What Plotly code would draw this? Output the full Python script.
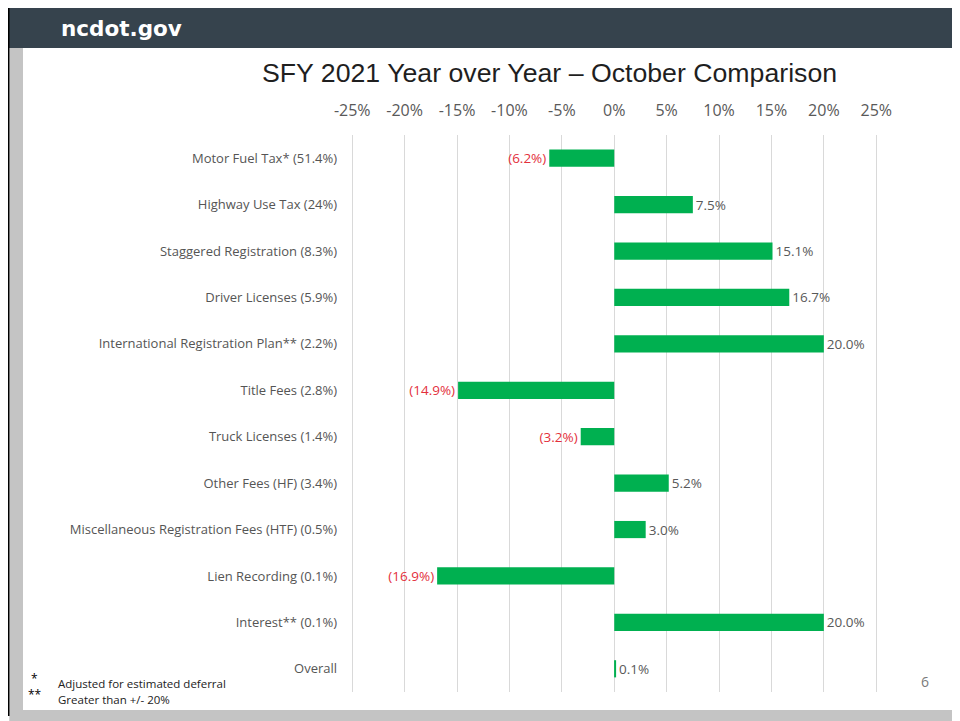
import plotly.graph_objects as go

categories = [
    "Motor Fuel Tax* (51.4%)",
    "Highway Use Tax (24%)",
    "Staggered Registration (8.3%)",
    "Driver Licenses (5.9%)",
    "International Registration Plan** (2.2%)",
    "Title Fees (2.8%)",
    "Truck Licenses (1.4%)",
    "Other Fees (HF) (3.4%)",
    "Miscellaneous Registration Fees (HTF) (0.5%)",
    "Lien Recording (0.1%)",
    "Interest** (0.1%)",
    "Overall",
]
values = [-6.2, 7.5, 15.1, 16.7, 20.0, -14.9, -3.2, 5.2, 3.0, -16.9, 20.0, 0.1]
tick_vals = [-25, -20, -15, -10, -5, 0, 5, 10, 15, 20, 25]
tick_text = ["-25%", "-20%", "-15%", "-10%", "-5%", "0%", "5%", "10%", "15%", "20%", "25%"]

# page body adds an 8px offset; work in reference page pixels and convert
OFF = 8
W, H = 960 - OFF, 721 - OFF
GREEN = "#00b050"
RED = "#e3303c"
GREY_TXT = "#595959"

labels = [f"({abs(v):.1f}%)" if v < 0 else f"{v:.1f}%" for v in values]
label_colors = [RED if v < 0 else GREY_TXT for v in values]


def px(x):
    return (x - OFF) / W


def py(y):
    return 1 - (y - OFF) / H


fig = go.Figure()
fig.add_trace(go.Bar(
    x=values, y=categories, orientation="h",
    marker=dict(color=GREEN, line=dict(width=0)),
    width=0.37,
    text=labels, textposition="outside", constraintext="none",
    textfont=dict(family="Open Sans", size=13.5, color=label_colors),
    cliponaxis=False, hoverinfo="skip",
))

shapes = [
    # header
    dict(type="rect", xref="paper", yref="paper", x0=px(9), x1=1.01, y0=py(48), y1=1.01,
         fillcolor="#36434d", line=dict(width=0), layer="above"),
    # left black line
    dict(type="rect", xref="paper", yref="paper", x0=px(8), x1=px(9.5), y0=py(716), y1=1.01,
         fillcolor="#000000", line=dict(width=0), layer="above"),
    # left grey strip
    dict(type="rect", xref="paper", yref="paper", x0=px(9.5), x1=px(23), y0=-0.01, y1=py(48),
         fillcolor="#c4c4c4", line=dict(width=0), layer="below"),
    # bottom grey strip
    dict(type="rect", xref="paper", yref="paper", x0=px(9.5), x1=1.01, y0=-0.01, y1=py(710),
         fillcolor="#c4c4c4", line=dict(width=0), layer="below"),
    # right grey strip
    dict(type="rect", xref="paper", yref="paper", x0=px(957), x1=1.01, y0=-0.01, y1=py(48),
         fillcolor="#c4c4c4", line=dict(width=0), layer="below"),
]

annotations = [
    dict(text="<b>ncdot.gov</b>", x=px(59), y=py(28), xref="paper", yref="paper",
         xanchor="left", yanchor="middle", showarrow=False,
         font=dict(family="DejaVu Sans", size=21.5, color="white")),
    dict(text="SFY 2021 Year over Year – October Comparison", x=px(549.5), y=py(73),
         xref="paper", yref="paper", xanchor="center", yanchor="middle", showarrow=False,
         font=dict(family="Liberation Sans, Arial", size=26.7, color="#1f1f1f")),
    dict(text="*", x=px(29), y=py(678), xref="paper", yref="paper",
         xanchor="left", yanchor="middle", showarrow=False,
         font=dict(family="Open Sans", size=12, color="#000000")),
    dict(text="Adjusted for estimated deferral", x=px(56), y=py(683), xref="paper", yref="paper",
         xanchor="left", yanchor="middle", showarrow=False,
         font=dict(family="Open Sans", size=11.5, color="#222222")),
    dict(text="**", x=px(26), y=py(694), xref="paper", yref="paper",
         xanchor="left", yanchor="middle", showarrow=False,
         font=dict(family="Open Sans", size=12, color="#000000")),
    dict(text="Greater than +/- 20%", x=px(56), y=py(699), xref="paper", yref="paper",
         xanchor="left", yanchor="middle", showarrow=False,
         font=dict(family="Open Sans", size=11.5, color="#222222")),
    dict(text="6", x=px(925), y=py(681), xref="paper", yref="paper",
         xanchor="center", yanchor="middle", showarrow=False,
         font=dict(family="Open Sans", size=14, color="#7a7a7a")),
]

fig.update_layout(
    width=W, height=H,
    margin=dict(l=0, r=0, t=0, b=0),
    paper_bgcolor="white", plot_bgcolor="white",
    showlegend=False,
    shapes=shapes, annotations=annotations,
    xaxis=dict(
        domain=[px(349.1), px(879.4)],
        range=[-25.3, 25.3], side="top",
        tickvals=tick_vals, ticktext=tick_text,
        showgrid=True, gridcolor="#d9d9d9", gridwidth=1,
        zeroline=False, showline=False, ticks="",
        ticklabelstandoff=15,
        tickfont=dict(family="Open Sans", size=16, color=GREY_TXT),
        automargin=False, fixedrange=True,
    ),
    yaxis=dict(
        domain=[py(692), py(135)],
        autorange="reversed", type="category",
        showgrid=False, zeroline=False, showline=False, ticks="",
        ticklabelstandoff=11,
        tickfont=dict(family="Open Sans", size=13, color="#555555"),
        automargin=False, fixedrange=True,
    ),
)

fig.write_html("out.html")
